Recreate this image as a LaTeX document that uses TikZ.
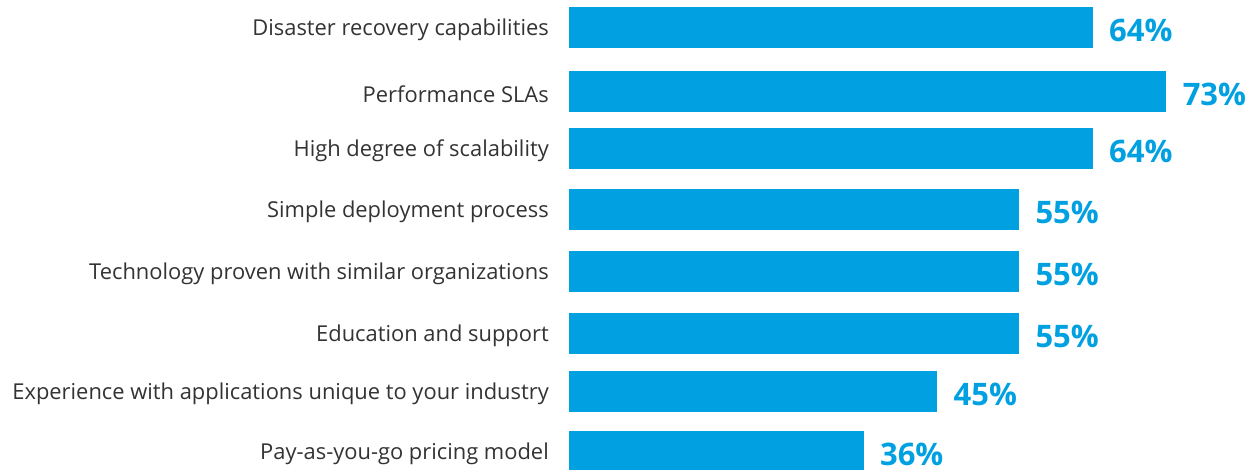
\documentclass[tikz,border=0pt]{standalone}
\usepackage{fontspec}
\setmainfont{Open Sans}
\usetikzlibrary{positioning}
\definecolor{barblue}{RGB}{0,160,225}
\definecolor{labgray}{RGB}{51,51,51}
\tikzset{
  bar/.style={fill=barblue, draw=none, inner sep=0pt, minimum height=41pt, anchor=west},
  itemlabel/.style={text=labgray, font=\fontsize{21.9}{24}\selectfont, anchor=east, inner sep=0pt},
  pctlabel/.style={text=barblue, font=\bfseries\fontsize{31}{34}\selectfont, inner sep=0pt}
}
\begin{document}
\begin{tikzpicture}[x=1pt, y=-1pt]
    \useasboundingbox (0,0) rectangle (1254,470);
    % Bars, one per item
    \foreach \val/\yc/\txt [count=\i] in {
        64/28/Disaster recovery capabilities,
        73/92/Performance SLAs,
        64/149/High degree of scalability,
        55/210/Simple deployment process,
        55/272/Technology proven with similar organizations,
        55/334/Education and support,
        45/392/Experience with applications unique to your industry,
        36/452/Pay-as-you-go pricing model}{
        \node[bar, minimum width=8.18*\val pt] (bar\i) at (569,\yc) {};
        \node[itemlabel] (lab\i) at (549,\yc+2) {\txt};
        \node[pctlabel, right=16pt of bar\i, yshift=-2pt] (pct\i) {\val\%};
    }
\end{tikzpicture}
\end{document}
